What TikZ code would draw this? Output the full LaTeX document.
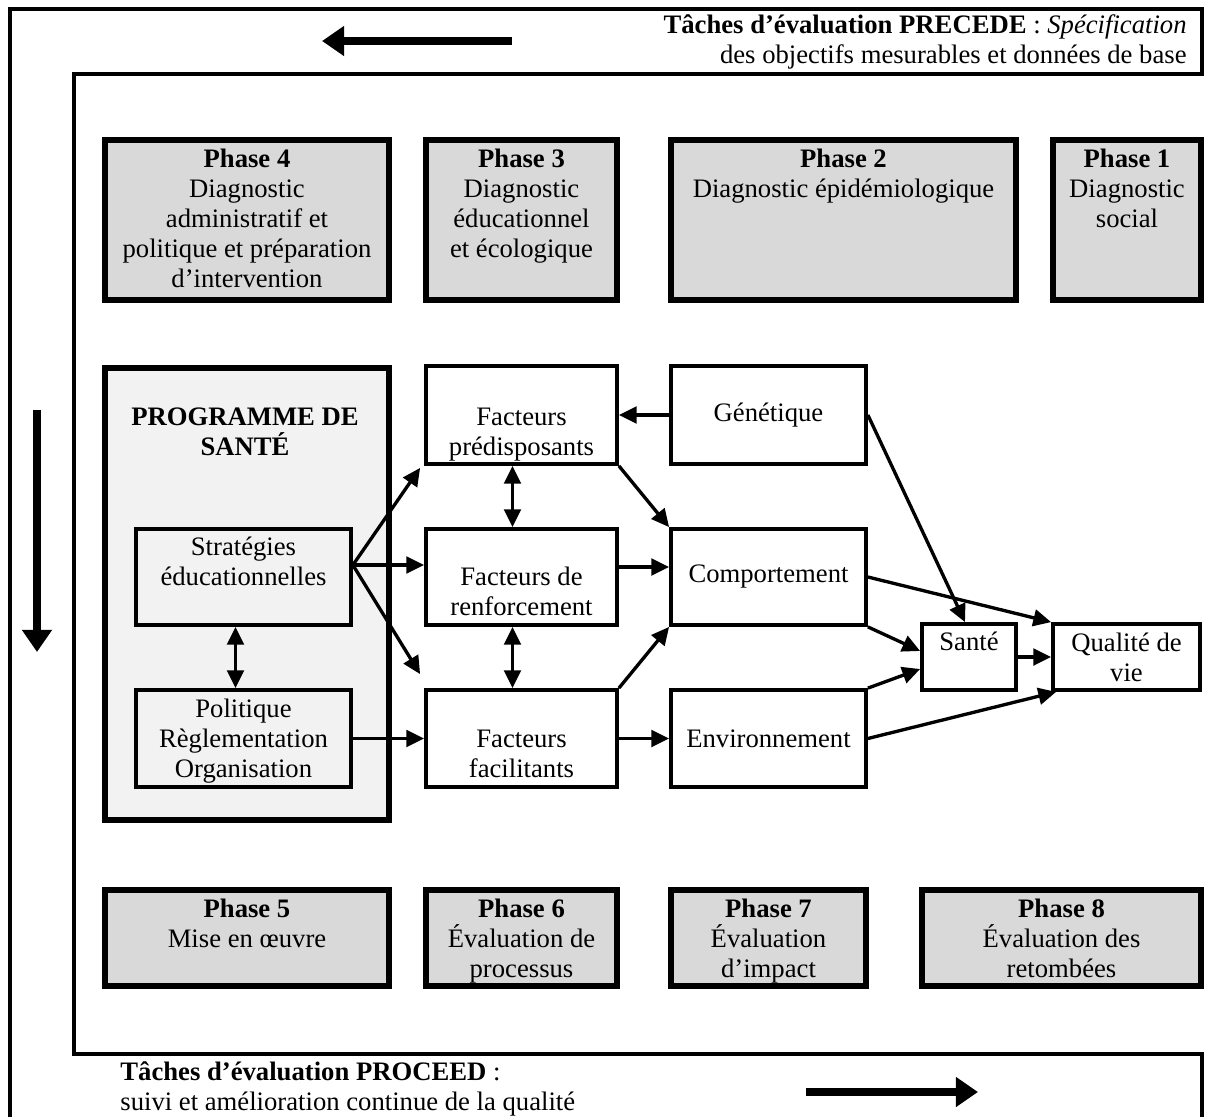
\documentclass[tikz,border=0pt]{standalone}
\usepackage{fontspec}
\setmainfont{Liberation Serif}
\usepackage{tikz}
\usetikzlibrary{arrows.meta, positioning, calc}
\definecolor{phasegrey}{RGB}{217,217,217}
\definecolor{proggrey}{RGB}{242,242,242}

\begin{document}
\begin{tikzpicture}[x=0.45pt, y=-0.45pt,
  every node/.style={font=\fontsize{12}{13.5}\selectfont},
  phase/.style={draw, line width=2.7pt, fill=phasegrey, inner sep=0pt},
  box/.style={draw, line width=1.7pt, fill=white, inner sep=0pt, align=center},
  txt/.style={anchor=base, align=center, inner sep=0pt},
  link/.style={line width=1.5pt, -{Triangle[length=8pt,width=7.5pt]}},
  both/.style={line width=1.5pt, {Triangle[length=8pt,width=7.5pt]}-{Triangle[length=8pt,width=7.5pt]}},
  bigarrow/.style={line width=3.2pt, -{Triangle[length=10pt,width=13pt]}}]
  \useasboundingbox (0,0) rectangle (1206,1117);

  % frame of the two evaluation loops
  \draw[line width=1.8pt] (10,1117) -- (10,9) -- (1202,9) -- (1202,74) -- (74,74)
    -- (74,1054) -- (1202,1054) -- (1202,1117);
  % (base = last line of a node)
  \node[anchor=base east, align=right, inner sep=0pt] (precede) at (1187,63)
    {\textbf{Tâches d’évaluation PRECEDE} : \textit{Spécification}\\des objectifs mesurables et données de base};
  \node[anchor=base west, align=left, inner sep=0pt] (proceed) at (120,1110)
    {\textbf{Tâches d’évaluation PROCEED} :\\suivi et amélioration continue de la qualité};
  \coordinate (topS) at (512,41);
  \coordinate (topE) at (322,41);
  \coordinate (leftS) at (37,410);
  \coordinate (leftE) at (37,652);
  \coordinate (botS) at (806,1092);
  \coordinate (botE) at (978,1092);
  \draw[bigarrow] (topS) -- (topE);
  \draw[bigarrow] (leftS) -- (leftE);
  \draw[bigarrow] (botS) -- (botE);

  % PRECEDE phases
  \node[phase, minimum width=127.8pt, minimum height=72pt] (p4) at (247,220) {};
  \node[txt] (p4t) at (247,287) {\textbf{Phase 4}\\Diagnostic\\administratif et\\politique et préparation\\d’intervention};
  \node[phase, minimum width=85.95pt, minimum height=72pt] (p3) at (521.5,220) {};
  \node[txt] (p3t) at (521.5,257) {\textbf{Phase 3}\\Diagnostic\\éducationnel\\et écologique};
  \node[phase, minimum width=155.25pt, minimum height=72pt] (p2) at (843.5,220) {};
  \node[txt] (p2t) at (843.5,197) {\textbf{Phase 2}\\Diagnostic épidémiologique};
  \node[phase, minimum width=66.6pt, minimum height=72pt] (p1) at (1127,220) {};
  \node[txt] (p1t) at (1127,227) {\textbf{Phase 1}\\Diagnostic\\social};

  % PROCEED phases
  \node[phase, minimum width=127.8pt, minimum height=43.2pt] (p5) at (247,938) {};
  \node[txt] (p5t) at (247,947) {\textbf{Phase 5}\\Mise en œuvre};
  \node[phase, minimum width=85.95pt, minimum height=43.2pt] (p6) at (521.5,938) {};
  \node[txt] (p6t) at (521.5,977) {\textbf{Phase 6}\\Évaluation de\\processus};
  \node[phase, minimum width=87.75pt, minimum height=43.2pt] (p7) at (768.5,938) {};
  \node[txt] (p7t) at (768.5,977) {\textbf{Phase 7}\\Évaluation\\d’impact};
  \node[phase, minimum width=125.55pt, minimum height=43.2pt] (p8) at (1061.5,938) {};
  \node[txt] (p8t) at (1061.5,977) {\textbf{Phase 8}\\Évaluation des\\retombées};

  % health programme
  \node[draw, line width=2.7pt, fill=proggrey, inner sep=0pt, minimum width=127.8pt, minimum height=203.4pt] (prog) at (247,594) {};
  \node[txt] (progt) at (245,455) {\textbf{PROGRAMME DE}\\\textbf{SANTÉ}};
  \node[box, fill=proggrey, minimum width=96.75pt, minimum height=43.2pt] (strat) at (243.5,577) {};
  \node[txt] (stratt) at (243.5,585) {Stratégies\\éducationnelles};
  \node[box, fill=proggrey, minimum width=96.75pt, minimum height=43.65pt] (pol) at (243.5,738.5) {};
  \node[txt] (polt) at (243.5,777) {Politique\\Règlementation\\Organisation};

  % factors
  \node[box, minimum width=85.95pt, minimum height=44.1pt] (fp) at (521.5,415) {};
  \node[txt] (fpt) at (521.5,455) {Facteurs\\prédisposants};
  \node[box, minimum width=85.95pt, minimum height=43.2pt] (fr) at (521.5,577) {};
  \node[txt] (frt) at (521.5,615) {Facteurs de\\renforcement};
  \node[box, minimum width=85.95pt, minimum height=43.65pt] (ff) at (521.5,738.5) {};
  \node[txt] (fft) at (521.5,777) {Facteurs\\facilitants};

  \node[box, minimum width=87.75pt, minimum height=44.1pt] (gen) at (768.5,415) {Génétique};
  \node[box, minimum width=87.75pt, minimum height=43.2pt] (comp) at (768.5,577) {Comportement};
  \node[box, minimum width=87.75pt, minimum height=43.65pt] (env) at (768.5,738.5) {Environnement};

  \node[box, minimum width=42.3pt, minimum height=29.7pt] (sante) at (969,657) {};
  \node[txt] (santet) at (969,650) {Santé};
  \node[box, minimum width=66.15pt, minimum height=29.7pt] (qual) at (1126.5,657) {};
  \node[txt] (qualt) at (1126.5,681) {Qualité de\\vie};

  % links
  \draw[both] ($(strat.south)+(-8,0)$) -- ($(pol.north)+(-8,0)$);
  \draw[link] ($(strat.east)+(0,-12)$) -- ($(fp.south west)+(-4,2)$);
  \draw[link] ($(strat.east)+(0,-12)$) -- ($(fr.west)+(0,-12)$);
  \draw[link] ($(strat.east)+(0,-12)$) -- ($(ff.north west)+(-4,-14)$);
  \draw[link] (pol.east) -- (ff.west);
  \draw[both] ($(fp.south)+(-9,0)$) -- ($(fr.north)+(-9,0)$);
  \draw[both] ($(fr.south)+(-9,0)$) -- ($(ff.north)+(-9,0)$);
  \draw[link] (gen.west) -- (fp.east);
  \draw[link] (fp.south east) -- (comp.north west);
  \draw[link] ($(fr.east)+(0,-10)$) -- ($(comp.west)+(0,-10)$);
  \draw[link] (ff.north east) -- (comp.south west);
  \draw[link] (ff.east) -- (env.west);
  \draw[link] (gen.east) -- ($(sante.north)+(-4,0)$);
  \draw[link] (comp.east) -- (qual.north west);
  \draw[link] (comp.south east) -- ($(sante.west)+(0,-6)$);
  \draw[link] (env.north east) -- ($(sante.west)+(0,12)$);
  \draw[link] (sante.east) -- (qual.west);
  \draw[link] (env.east) -- ($(qual.south west)+(5,0)$);
\end{tikzpicture}
\end{document}
